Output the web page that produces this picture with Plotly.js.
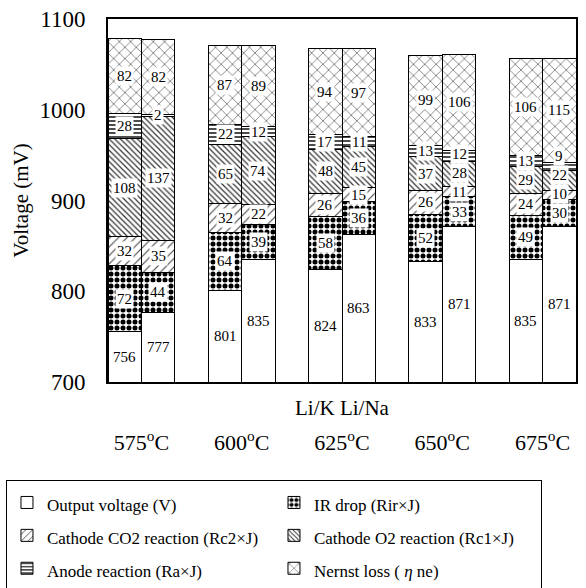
<!DOCTYPE html>
<html>
<head>
<meta charset="utf-8">
<script src="https://cdn.plot.ly/plotly-3.0.1.min.js"></script>
<style>html,body{margin:0;padding:0;background:#fff;}#chart{width:586px;height:588px;}</style>
</head>
<body>
<div id="chart"></div>
<script>
// ---- data (mV) ----
const temperatures = ['575', '600', '625', '650', '675'];
const electrolytes = ['Li/K', 'Li/Na'];
// bar order: 575 Li/K, 575 Li/Na, 600 Li/K, 600 Li/Na, ...
const outputVoltage = [756, 777, 801, 835, 824, 863, 833, 871, 835, 871];
const irDrop        = [72, 44, 64, 39, 58, 36, 52, 33, 49, 30];
const cathodeCO2    = [32, 35, 32, 22, 26, 15, 26, 11, 24, 10];
const cathodeO2     = [108, 137, 65, 74, 48, 45, 37, 28, 29, 22];
const anode         = [28, 2, 22, 12, 17, 11, 13, 12, 13, 9];
const nernst        = [82, 82, 87, 89, 94, 97, 99, 106, 106, 115];
const seriesNames = ['Output voltage (V)', 'IR drop (Rir×J)', 'Cathode CO2 reaction (Rc2×J)',
  'Cathode O2 reaction (Rc1×J)', 'Anode reaction (Ra×J)', 'Nernst loss ( <i>η</i> ne)'];

const FONT = 'Liberation Serif, Times New Roman, serif';
const yMin = 700, yMax = 1100;

// bar positions: groups of two bars, one empty bar-width between groups
const xPos = [];
temperatures.forEach((t, g) => electrolytes.forEach((e, k) => xPos.push(3 * g + k + 0.5)));
const tickPos = temperatures.map((t, g) => 3 * g + 1);

const series = [outputVoltage, irDrop, cathodeCO2, cathodeO2, anode, nernst];
const patterns = [
  {shape: ''},
  {shape: '.', size: 6, solidity: 0.55, fgcolor: '#000', bgcolor: '#fff'},
  {shape: '/', size: 6, solidity: 0.18, fgcolor: '#444', bgcolor: '#fff'},
  {shape: '\\', size: 4, solidity: 0.3, fgcolor: '#333', bgcolor: '#fff'},
  {shape: '-', size: 4, solidity: 0.35, fgcolor: '#000', bgcolor: '#fff'},
  {shape: 'x', size: 8, solidity: 0.16, fgcolor: '#555', bgcolor: '#fff'}
];

const traces = series.map((vals, i) => ({
  type: 'bar',
  x: xPos,
  y: vals,
  width: 1,
  name: '<span style="font-size:17px">' + seriesNames[i] + '</span>',
  marker: {color: '#fff', line: {color: '#000', width: 1}, pattern: patterns[i]},
  hoverinfo: 'skip'
}));

// value labels at segment centres, nudged upward where they would collide
const MIN_LABEL_GAP = 21; // in mV
const annotations = [];
xPos.forEach((x, b) => {
  let base = 0, prevY = -Infinity;
  series.forEach((vals, i) => {
    const top = base + vals[b];
    const lo = Math.max(base, yMin);
    const y = Math.max((lo + top) / 2, prevY + MIN_LABEL_GAP);
    prevY = y;
    annotations.push({
      x: x, y: y, xref: 'x', yref: 'y', text: String(vals[b]),
      showarrow: false, bgcolor: '#fff', borderpad: 1,
      font: {family: FONT, size: 15, color: '#000'}
    });
    base = top;
  });
});
annotations.push({
  x: 0.5, y: -0.072, xref: 'paper', yref: 'paper', text: electrolytes.join(' '),
  showarrow: false, yanchor: 'middle', font: {family: FONT, size: 21, color: '#000'}
});

const layout = {
  width: 586, height: 588,
  margin: {l: 108, r: 10, t: 19, b: 206, autoexpand: false},
  paper_bgcolor: '#fff', plot_bgcolor: '#fff',
  barmode: 'stack',
  bargap: 0,
  showlegend: true,
  font: {family: FONT, color: '#000'},
  xaxis: {
    range: [0, 14], tickvals: tickPos,
    ticktext: temperatures.map(t => t + '<sup>o</sup>C'),
    ticks: '', showgrid: false, zeroline: false,
    showline: true, linecolor: '#000', linewidth: 2, mirror: true,
    tickfont: {family: FONT, size: 22, color: '#000'},
    ticklabelstandoff: 40
  },
  yaxis: {
    range: [yMin, yMax], dtick: 100, tick0: 700,
    ticks: '', showgrid: false, zeroline: false,
    showline: true, linecolor: '#000', linewidth: 2, mirror: true,
    tickfont: {family: FONT, size: 23, color: '#000'},
    ticklabelstandoff: 16,
    title: {text: 'Voltage (mV)', font: {family: FONT, size: 21, color: '#000'}, standoff: 5}
  },
  legend: {
    orientation: 'h', xref: 'paper', yref: 'paper',
    x: -0.218, y: -0.27, xanchor: 'left', yanchor: 'top',
    entrywidth: 222, traceorder: 'normal',
    bgcolor: '#fff', bordercolor: '#000', borderwidth: 1,
    font: {family: FONT, size: 23, color: '#000'}
  },
  annotations: annotations
};

Plotly.newPlot('chart', traces, layout, {displayModeBar: false, staticPlot: true});
</script>
</body>
</html>
